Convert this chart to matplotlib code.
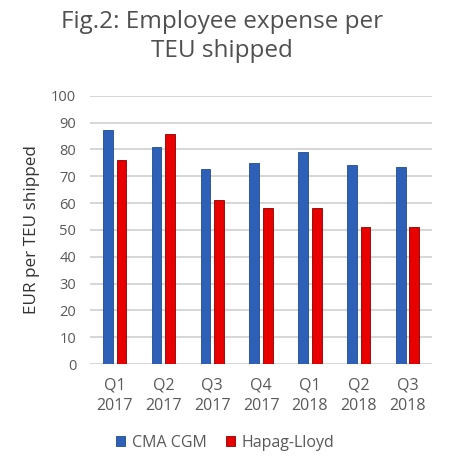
import matplotlib.pyplot as plt
import numpy as np

plt.rcParams["font.family"] = ["Open Sans", "DejaVu Sans"]

quarters = ["Q1\n2017", "Q2\n2017", "Q3\n2017", "Q4\n2017", "Q1\n2018", "Q2\n2018", "Q3\n2018"]
cma_cgm = [87.3, 81.0, 72.8, 75.1, 79.2, 74.2, 73.6]
hapag_lloyd = [75.9, 85.7, 61.0, 58.3, 58.1, 51.2, 51.0]

gray = "#595959"

fig = plt.figure(figsize=(4.6, 4.65), dpi=100)
ax = fig.add_axes([0.196, 0.217, 0.743, 0.577])

x = np.arange(len(quarters))
w = 0.2
ax.bar(x - 0.14, cma_cgm, w, color="#2F60B8", edgecolor="#1F4A90", linewidth=0.6, label="CMA CGM", zorder=3)
ax.bar(x + 0.14, hapag_lloyd, w, color="#E80000", edgecolor="#8A0000", linewidth=0.6, label="Hapag-Lloyd", zorder=3)

ax.set_ylim(0, 100)
ax.set_xlim(-0.5, len(quarters) - 0.5)
ax.set_yticks(range(0, 101, 10))
ax.set_xticks(x)
ax.set_xticklabels(quarters, fontsize=11.5, color=gray, linespacing=1.35)
ax.tick_params(axis="y", labelsize=10.5, colors=gray, length=0, pad=10)
ax.tick_params(axis="x", length=0, pad=10)
ax.grid(axis="y", color="#D0D0D0", linewidth=1.2, zorder=0)
for s in ax.spines.values():
    s.set_visible(False)

ax.set_ylabel("EUR per TEU shipped", fontsize=12.3, color="#333333", labelpad=8)

fig.text(0.483, 0.978, "Fig.2: Employee expense per\nTEU shipped", ha="center", va="top",
         fontsize=17.5, color="#505050", linespacing=1.25)

fig.legend(loc="lower left", bbox_to_anchor=(0.22, 0.0), ncol=2, frameon=False,
           fontsize=11.5, labelcolor=gray, handlelength=0.6, handleheight=0.6,
           handletextpad=0.4, columnspacing=1.2)

fig.savefig("out.png", dpi=100)
